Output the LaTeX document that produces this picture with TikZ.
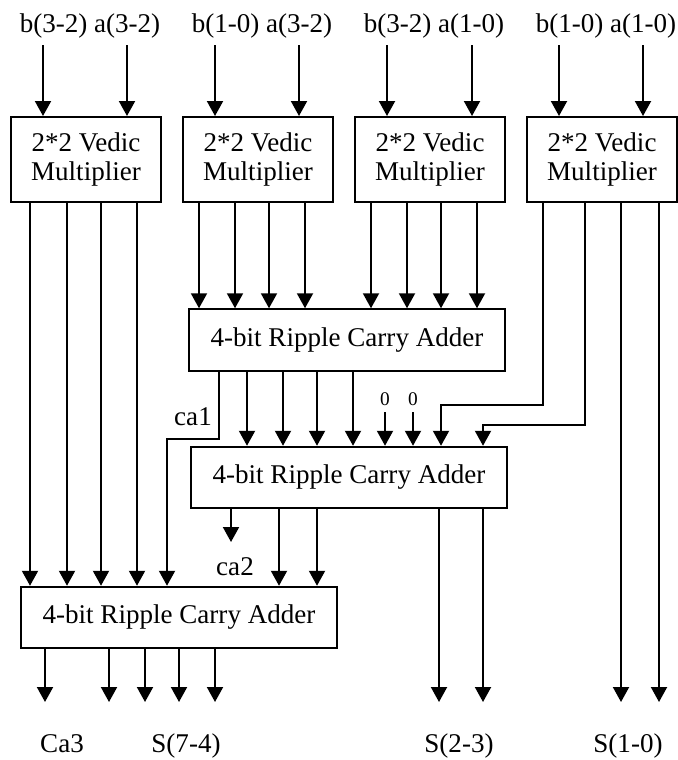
\documentclass[tikz,border=0pt]{standalone}
\usepackage{fontspec}
\setmainfont{Liberation Serif}
\usetikzlibrary{arrows.meta}

\begin{document}
\begin{tikzpicture}[x=0.02cm,y=-0.02cm,line width=0.04cm,
		>={Triangle[length=0.3cm,width=0.32cm]},
		mult/.style={draw,minimum width=3cm,minimum height=1.7cm,inner sep=0pt,
			align=center,font=\fontsize{15.4}{16.5}\selectfont},
		rca/.style={draw,minimum width=6.32cm,minimum height=1.23cm,inner sep=0pt,
			font=\fontsize{15.4}{18}\selectfont},
		lbl/.style={inner sep=3pt,font=\fontsize{15.4}{18}\selectfont},
		zero/.style={inner sep=3pt,font=\fontsize{11}{13}\selectfont}]
		
		\useasboundingbox (0,0) rectangle (678,760);
		
		% Vedic multipliers
		\node[mult] (m1) at (86,159.5) {2*2 Vedic\\Multiplier};
		\node[mult] (m2) at (258,159.5) {2*2 Vedic\\Multiplier};
		\node[mult] (m3) at (430,159.5) {2*2 Vedic\\Multiplier};
		\node[mult] (m4) at (602,159.5) {2*2 Vedic\\Multiplier};
		
		% Ripple carry adders
		\node[rca] (add1) at (347,340) {4-bit Ripple Carry Adder};
		\node[rca] (add2) at (349,477.5) {4-bit Ripple Carry Adder};
		\node[rca] (add3) at (179,617.5) {4-bit Ripple Carry Adder};
		
		% Inputs
		\node[lbl,anchor=base] (in1) at (90,33) {b(3-2) a(3-2)};
		\node[lbl,anchor=base] (in2) at (262,33) {b(1-0) a(3-2)};
		\node[lbl,anchor=base] (in3) at (434,33) {b(3-2) a(1-0)};
		\node[lbl,anchor=base] (in4) at (606,33) {b(1-0) a(1-0)};
		\draw[->] (in1.south -| 43,0) -- (m1.north -| 43,0);
		\draw[->] (in1.south -| 127,0) -- (m1.north -| 127,0);
		\draw[->] (in2.south -| 215,0) -- (m2.north -| 215,0);
		\draw[->] (in2.south -| 299,0) -- (m2.north -| 299,0);
		\draw[->] (in3.south -| 387,0) -- (m3.north -| 387,0);
		\draw[->] (in3.south -| 472,0) -- (m3.north -| 472,0);
		\draw[->] (in4.south -| 559,0) -- (m4.north -| 559,0);
		\draw[->] (in4.south -| 643,0) -- (m4.north -| 643,0);
		
		% Multiplier outputs
		\coordinate (bot) at (0,702);
		\draw[->] (m1.south -| 30,0) -- (add3.north -| 30,0);
		\draw[->] (m1.south -| 67,0) -- (add3.north -| 67,0);
		\draw[->] (m1.south -| 101,0) -- (add3.north -| 101,0);
		\draw[->] (m1.south -| 137,0) -- (add3.north -| 137,0);
		\draw[->] (m2.south -| 199,0) -- (add1.north -| 199,0);
		\draw[->] (m2.south -| 235,0) -- (add1.north -| 235,0);
		\draw[->] (m2.south -| 269,0) -- (add1.north -| 269,0);
		\draw[->] (m2.south -| 305,0) -- (add1.north -| 305,0);
		\draw[->] (m3.south -| 371,0) -- (add1.north -| 371,0);
		\draw[->] (m3.south -| 407,0) -- (add1.north -| 407,0);
		\draw[->] (m3.south -| 441,0) -- (add1.north -| 441,0);
		\draw[->] (m3.south -| 477,0) -- (add1.north -| 477,0);
		\draw[->] (m4.south -| 543,0) |- (441,405) -- (add2.north -| 441,0);
		\draw[->] (m4.south -| 585,0) |- (483,425) -- (add2.north -| 483,0);
		\draw[->] (m4.south -| 621,0) -- (bot -| 621,0);
		\draw[->] (m4.south -| 659,0) -- (bot -| 659,0);
		
		% First adder outputs
		\draw[->] (add1.south -| 219,0) |- (167,439) -- (add3.north -| 167,0);
		\node[lbl,anchor=base] (ca1) at (193,425) {ca1};
		\draw[->] (add1.south -| 247,0) -- (add2.north -| 247,0);
		\draw[->] (add1.south -| 283,0) -- (add2.north -| 283,0);
		\draw[->] (add1.south -| 317,0) -- (add2.north -| 317,0);
		\draw[->] (add1.south -| 353,0) -- (add2.north -| 353,0);
		
		% Zero inputs
		\node[zero] (z1) at (385,399.5) {0};
		\node[zero] (z2) at (413,399.5) {0};
		\draw[->] (z1.south) -- (z1 |- add2.north);
		\draw[->] (z2.south) -- (z2 |- add2.north);
		
		% Second adder outputs
		\coordinate (ca2end) at (231,542);
		\draw[->] (add2.south -| ca2end) -- (ca2end);
		\node[lbl,anchor=base] (ca2) at (235,575) {ca2};
		\draw[->] (add2.south -| 279,0) -- (add3.north -| 279,0);
		\draw[->] (add2.south -| 317,0) -- (add3.north -| 317,0);
		\draw[->] (add2.south -| 439,0) -- (bot -| 439,0);
		\draw[->] (add2.south -| 483,0) -- (bot -| 483,0);
		
		% Third adder outputs
		\draw[->] (add3.south -| 45,0) -- (bot -| 45,0);
		\draw[->] (add3.south -| 109,0) -- (bot -| 109,0);
		\draw[->] (add3.south -| 145,0) -- (bot -| 145,0);
		\draw[->] (add3.south -| 179,0) -- (bot -| 179,0);
		\draw[->] (add3.south -| 215,0) -- (bot -| 215,0);
		
		% Results
		\node[lbl,anchor=base] (ca3) at (62,752) {Ca3};
		\node[lbl,anchor=base] (s74) at (186,752) {S(7-4)};
		\node[lbl,anchor=base] (s23) at (459,752) {S(2-3)};
		\node[lbl,anchor=base] (s10) at (628,752) {S(1-0)};
		
	\end{tikzpicture}
\end{document}
